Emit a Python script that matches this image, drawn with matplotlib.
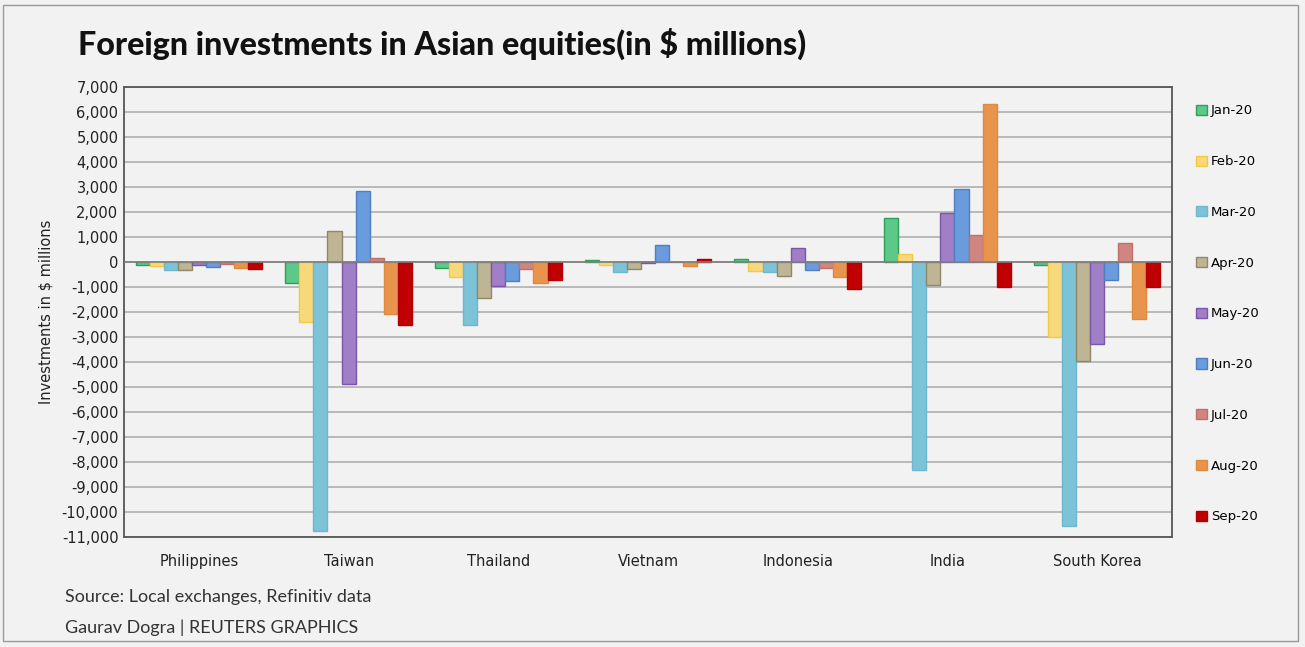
import numpy as np
import matplotlib.pyplot as plt
from matplotlib.patches import Rectangle

countries = ['Philippines', 'Taiwan', 'Thailand', 'Vietnam', 'Indonesia', 'India', 'South Korea']
months = ['Jan-20', 'Feb-20', 'Mar-20', 'Apr-20', 'May-20', 'Jun-20', 'Jul-20', 'Aug-20', 'Sep-20']

# $ millions, per month, in country order
jan = [-130, -840, -250, 90, 130, 1750, -130]
feb = [-150, -2400, -610, -130, -370, 330, -3000]
mar = [-310, -10770, -2530, -410, -410, -8320, -10550]
apr = [-310, 1240, -1440, -270, -570, -930, -3970]
may = [-130, -4880, -970, -50, 570, 1960, -3290]
jun = [-200, 2850, -750, 690, -320, 2920, -710]
jul = [-90, 180, -270, 0, -240, 1070, 750]
aug = [-240, -2080, -830, -150, -590, 6330, -2270]
sep = [-280, -2530, -720, 130, -1070, -1010, -990]
series = [jan, feb, mar, apr, may, jun, jul, aug, sep]

fills = ['#5cc98a', '#f7d97c', '#7cc3d8', '#bdb594', '#a17fc6', '#6a9bdc', '#cf8580', '#e9944c', '#c00000']
edges = ['#2f9f55', '#f2ca3f', '#6fb6cf', '#8f8767', '#7a55a8', '#4f7fc2', '#c0706b', '#e08a3e', '#b00000']

bg = '#f2f2f2'
fig = plt.figure(figsize=(13.05, 6.47), dpi=100, facecolor=bg)
ax = fig.add_axes([124 / 1305, 1 - 537 / 647, 1048 / 1305, 450 / 647])
ax.set_facecolor(bg)

x = np.arange(len(countries))
w = 0.094
for i, vals in enumerate(series):
    ax.bar(x + (i - 4) * w, vals, width=w, color=fills[i], edgecolor=edges[i],
           linewidth=1.0, label=months[i], zorder=3)

ax.set_xlim(-0.5, 6.5)
ax.set_ylim(-11000, 7000)
ax.set_yticks(np.arange(-11000, 7001, 1000))
ax.set_yticklabels([f'{v:,}' for v in range(-11000, 7001, 1000)])
ax.yaxis.grid(True, color='#b5b5b5', linewidth=1.3, zorder=0)
ax.axhline(0, color='#7f7f7f', linewidth=1.2, zorder=4)
ax.set_xticks(x)
ax.set_xticklabels(countries)
ax.tick_params(axis='both', length=0, labelsize=10.5, colors='#222222')
ax.tick_params(axis='x', pad=12)
ax.tick_params(axis='y', pad=4)
for s in ax.spines.values():
    s.set_color('#555555')
    s.set_linewidth(1.3)
ax.set_ylabel('Investments in $ millions', fontsize=10.5, color='#222222', labelpad=6)

leg = ax.legend(loc='upper left', bbox_to_anchor=(1.018, 0.973), frameon=False,
                fontsize=9.5, labelspacing=2.86, handlelength=0.8, handleheight=0.8,
                handletextpad=0.3, borderaxespad=0)

fig.text(78 / 1305, 1 - 44 / 647, 'Foreign investments in Asian equities(in $ millions)',
         fontsize=23.2, fontweight='black', family=['Lato', 'DejaVu Sans'], va='center', ha='left',
         color='#111111')
fig.text(65 / 1305, 1 - 597 / 647, 'Source: Local exchanges, Refinitiv data',
         fontsize=13, family=['Lato', 'DejaVu Sans'], va='center', color='#333333')
fig.text(65 / 1305, 1 - 628 / 647, 'Gaurav Dogra | REUTERS GRAPHICS',
         fontsize=13, family=['Lato', 'DejaVu Sans'], va='center', color='#333333')

fig.patches.append(Rectangle((3 / 1305, 6 / 647), 1295 / 1305, 636 / 647, transform=fig.transFigure,
                             fill=False, edgecolor='#9a9a9a', linewidth=1))

fig.savefig('out.png', dpi=100, facecolor=bg)
